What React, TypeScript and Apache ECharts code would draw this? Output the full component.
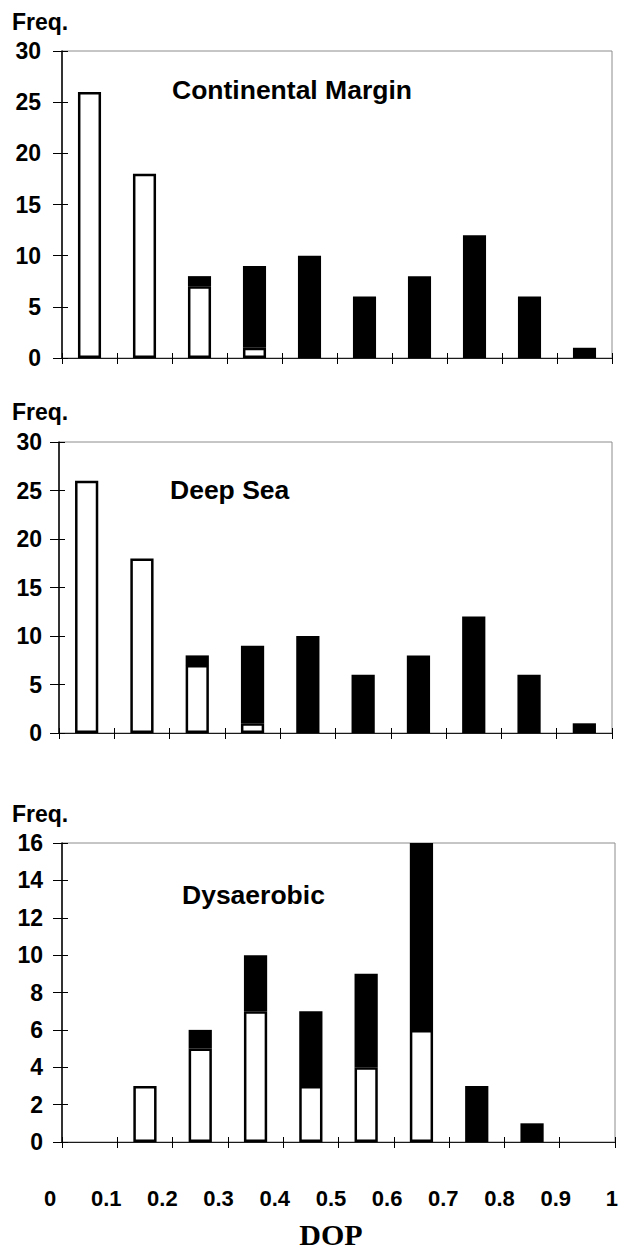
import React, { useEffect, useRef } from "react";
import * as echarts from "echarts";

// DOP bins (0–0.1 … 0.9–1.0)
const categories = [
  "0-0.1", "0.1-0.2", "0.2-0.3", "0.3-0.4", "0.4-0.5",
  "0.5-0.6", "0.6-0.7", "0.7-0.8", "0.8-0.9", "0.9-1.0",
];

// Continental Margin frequencies
const marginOpen = [26, 18, 7, 1, 0, 0, 0, 0, 0, 0];
const marginSolid = [0, 0, 1, 8, 10, 6, 8, 12, 6, 1];

// Deep Sea frequencies
const deepOpen = [26, 18, 7, 1, 0, 0, 0, 0, 0, 0];
const deepSolid = [0, 0, 1, 8, 10, 6, 8, 12, 6, 1];

// Dysaerobic frequencies
const dysOpen = [0, 3, 5, 7, 3, 4, 6, 0, 0, 0];
const dysSolid = [0, 0, 1, 3, 4, 5, 10, 3, 1, 0];

// Shared DOP scale printed beneath the panels
const dopMin = 0;
const dopMax = 1;
const dopStep = 0.1;

const panelTitles = ["Continental Margin", "Deep Sea", "Dysaerobic"];
const yMaxes = [30, 30, 16];
const ySteps = [5, 5, 2];

const SANS = '"Liberation Sans", Arial, Helvetica, sans-serif';
const SERIF = '"Liberation Serif", "Times New Roman", serif';

export default function App() {
  const ref = useRef<HTMLDivElement>(null);

  useEffect(() => {
    document.body.style.margin = "0";
    if (!ref.current) return;
    const chart = echarts.init(ref.current, undefined, { renderer: "svg" });

    const grids = [
      { left: 62, top: 51, width: 550, height: 307 },
      { left: 59, top: 442, width: 553, height: 291 },
      { left: 62, top: 843, width: 553, height: 299 },
    ];
    const labelMargins = [21, 17, 19];

    const gridOpts: any[] = grids.map((g) => ({
      ...g,
      show: true,
      borderColor: "#8c8c8c",
      borderWidth: 1,
      backgroundColor: "transparent",
    }));
    gridOpts.push({ left: 50, top: 1186, width: 565, height: 1, show: false });

    const xAxes: any[] = [];
    const yAxes: any[] = [];
    grids.forEach((_, i) => {
      xAxes.push({
        gridIndex: i,
        type: "category",
        data: categories,
        position: "bottom",
        boundaryGap: true,
        axisLine: { show: true, lineStyle: { color: "#1a1a1a", width: 1 } },
        axisTick: { show: true, interval: 0, length: 6, lineStyle: { color: "#000", width: 1 } },
        axisLabel: { show: false },
        splitLine: { show: false },
      });
      xAxes.push({
        gridIndex: i,
        type: "category",
        data: categories,
        position: "bottom",
        boundaryGap: true,
        axisLine: { show: false },
        axisTick: { show: true, inside: true, interval: 0, length: 5, lineStyle: { color: "#000", width: 1 } },
        axisLabel: { show: false },
        splitLine: { show: false },
      });
      yAxes.push({
        gridIndex: i,
        type: "value",
        position: "left",
        min: 0,
        max: yMaxes[i],
        interval: ySteps[i],
        axisLine: { show: true, lineStyle: { color: "#000", width: 1.5 } },
        axisTick: { show: true, length: 9, lineStyle: { color: "#000", width: 1 } },
        axisLabel: {
          show: true,
          margin: labelMargins[i],
          fontSize: 23,
          fontWeight: "bold",
          fontFamily: SANS,
          color: "#000",
        },
        splitLine: { show: false },
      });
      yAxes.push({
        gridIndex: i,
        type: "value",
        position: "left",
        min: 0,
        max: yMaxes[i],
        interval: ySteps[i],
        axisLine: { show: false },
        axisTick: { show: true, inside: true, length: 6, lineStyle: { color: "#000", width: 1 } },
        axisLabel: { show: false },
        splitLine: { show: false },
      });
    });

    // DOP scale row
    xAxes.push({
      gridIndex: 3,
      type: "value",
      position: "bottom",
      min: dopMin,
      max: dopMax,
      interval: dopStep,
      axisLine: { show: false },
      axisTick: { show: false },
      splitLine: { show: false },
      axisLabel: {
        show: true,
        margin: 0,
        verticalAlign: "top",
        lineHeight: 22,
        fontSize: 22,
        fontWeight: "bold",
        fontFamily: SANS,
        color: "#000",
      },
      name: "DOP",
      nameLocation: "middle",
      nameGap: 32,
      nameTextStyle: { fontFamily: SERIF, fontWeight: "bold", fontSize: 30, color: "#000" },
    });
    yAxes.push({
      gridIndex: 3,
      type: "value",
      show: false,
      min: 0,
      max: 1,
      splitLine: { show: false },
    });

    const panels = [
      [marginOpen, marginSolid],
      [deepOpen, deepSolid],
      [dysOpen, dysSolid],
    ];
    const series: any[] = [];
    panels.forEach(([open, solid], i) => {
      series.push({
        type: "bar",
        name: panelTitles[i] + " open",
        xAxisIndex: i * 2,
        yAxisIndex: i * 2,
        stack: "panel" + i,
        barWidth: "42%",
        data: open.map((v) => (v === 0 ? null : v)),
        itemStyle: { color: "#ffffff", borderColor: "#000000", borderWidth: 2.5 },
        silent: true,
      });
      series.push({
        type: "bar",
        name: panelTitles[i] + " solid",
        xAxisIndex: i * 2,
        yAxisIndex: i * 2,
        stack: "panel" + i,
        barWidth: "42%",
        data: solid.map((v) => (v === 0 ? null : v)),
        itemStyle: { color: "#000000", borderWidth: 0 },
        silent: true,
      });
    });

    const textStyle = (size: number) => ({
      fontSize: size,
      fontWeight: "bold",
      fontFamily: SANS,
      color: "#000",
    });

    chart.setOption({
      animation: false,
      backgroundColor: "#ffffff",
      title: [
        { text: "Freq.", left: 12, top: 10, padding: 0, textStyle: textStyle(23) },
        { text: "Freq.", left: 12, top: 400, padding: 0, textStyle: textStyle(23) },
        { text: "Freq.", left: 12, top: 802, padding: 0, textStyle: textStyle(23) },
        { text: panelTitles[0], left: 172, top: 76, padding: 0, textStyle: textStyle(26.5) },
        { text: panelTitles[1], left: 170, top: 476, padding: 0, textStyle: textStyle(26.5) },
        { text: panelTitles[2], left: 182, top: 881, padding: 0, textStyle: textStyle(26.5) },
      ],
      grid: gridOpts,
      xAxis: xAxes,
      yAxis: yAxes,
      series,
    });

    return () => {
      chart.dispose();
    };
  }, []);

  return <div ref={ref} style={{ width: 621, height: 1255 }} />;
}
